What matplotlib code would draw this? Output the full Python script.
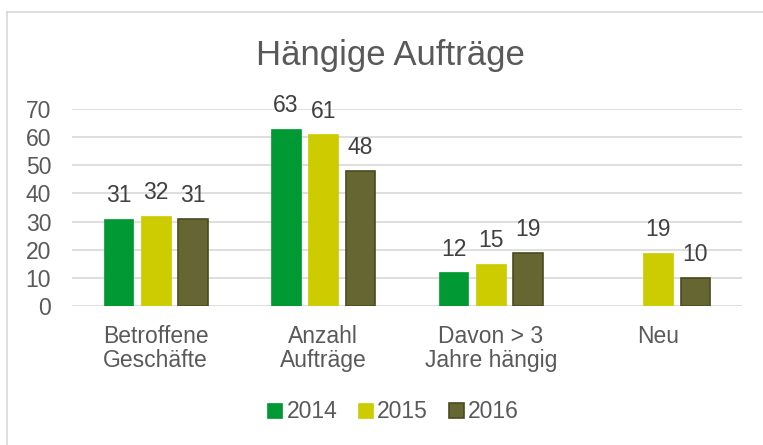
import matplotlib
matplotlib.use("Agg")
import matplotlib.pyplot as plt
import numpy as np

categories = ["Betroffene\nGeschäfte", "Anzahl\nAufträge", "Davon > 3\nJahre hängig", "Neu"]
years = ["2014", "2015", "2016"]
v2014 = [31, 63, 12, None]
v2015 = [32, 61, 15, 19]
v2016 = [31, 48, 19, 10]
yticks = [0, 10, 20, 30, 40, 50, 60, 70]

colors = ["#009933", "#CCCC00", "#666633"]
edges = ["#009933", "#CCCC00", "#4A4A1F"]
text_col = "#595959"

plt.rcParams['font.family'] = ['Liberation Sans', 'DejaVu Sans']

fig = plt.figure(figsize=(7.63, 4.45), dpi=100)
ax = fig.add_axes([72/763, 1-306/445, (742-72)/763, (306-109)/445])

x = np.arange(len(categories))
w = 0.178
step = 0.222
series = [v2014, v2015, v2016]
for i, (vals, c, e, yr) in enumerate(zip(series, colors, edges, years)):
    xs = [xi + (i-1)*step for xi, v in zip(x, vals) if v is not None]
    vs = [v for v in vals if v is not None]
    ax.bar(xs, vs, width=w, color=c, edgecolor=e, linewidth=1.2 if i == 2 else 0.5,
           label=yr, zorder=3)
    for xb, v in zip(xs, vs):
        ax.annotate(str(v), (xb, v), xytext=(0, 12), textcoords='offset points',
                    ha='center', va='baseline', fontsize=16.5, color="#404040")

ax.set_xlim(-0.5, 3.5)
ax.set_ylim(0, 70)
ax.set_yticks(yticks)
ax.set_yticklabels([str(t) for t in yticks], fontsize=16.5, color=text_col)
ax.set_xticks(x)
ax.set_xticklabels(categories, fontsize=16.5, color=text_col, linespacing=1.05)
ax.tick_params(axis='both', length=0)
ax.tick_params(axis='y', pad=15)
ax.tick_params(axis='x', pad=14)
ax.grid(axis='y', color='#D9D9D9', linewidth=1.2, zorder=0)
for s in ax.spines.values():
    s.set_visible(False)

fig.text(390/763, 1-55/445, "Hängige Aufträge", ha='center', va='center', fontsize=25, color=text_col)

leg = fig.legend(loc='center', bbox_to_anchor=(393/763, 1-412/445), ncol=3, frameon=False,
                 fontsize=16.5, handlelength=0.65, handleheight=0.65, handletextpad=0.2,
                 columnspacing=0.9, labelcolor=text_col)

# outer chart border (top and left visible)
fig.add_artist(plt.Line2D([7/763, 7/763], [0, 1-12/445], color='#D9D9D9', linewidth=1.2))
fig.add_artist(plt.Line2D([7/763, 1], [1-12/445, 1-12/445], color='#D9D9D9', linewidth=1.2))

fig.savefig("out.png", dpi=100)
